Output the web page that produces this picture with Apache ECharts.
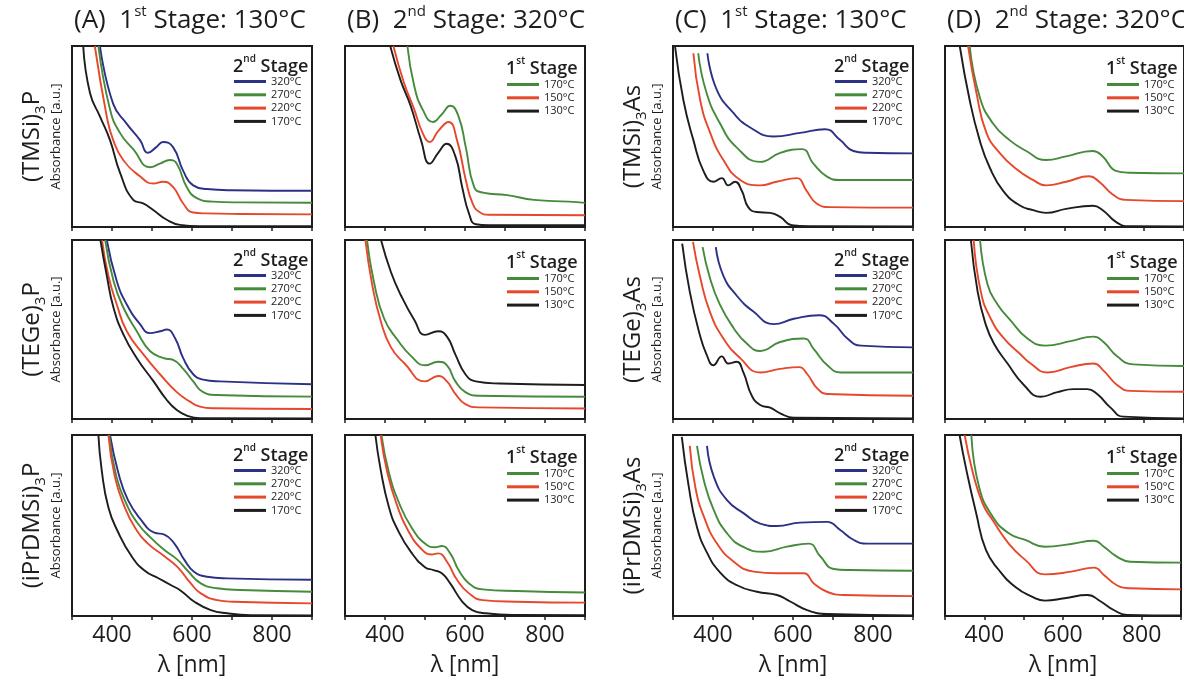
<!DOCTYPE html>
<html>
<head>
<meta charset="utf-8">
<title>Absorption spectra</title>
<script src="https://cdn.jsdelivr.net/npm/echarts@6/dist/echarts.min.js"></script>
<style>
  html, body { margin: 0; padding: 0; background: #ffffff; }
  #chart { width: 1184px; height: 683px; }
</style>
</head>
<body>
<div id="chart"></div>
<script>
// ---- spectra: [wavelength nm, absorbance a.u.] ----
// (TMSi)3P, 1st stage 130 °C, varying 2nd stage
const a1_320 = [[370,1.0],[403,0.68],[437,0.57],[470,0.48],[490,0.41],[510,0.44],[528,0.47],[553,0.44],[578,0.31],[603,0.23],[637,0.21],[700,0.203],[900,0.20]];
const a1_270 = [[366,1.0],[395,0.65],[420,0.52],[453,0.43],[495,0.33],[520,0.35],[545,0.37],[562,0.35],[587,0.22],[612,0.16],[652,0.14],[720,0.136],[900,0.134]];
const a1_220 = [[357,1.0],[387,0.61],[403,0.48],[428,0.37],[470,0.28],[503,0.24],[528,0.25],[553,0.22],[578,0.13],[603,0.08],[637,0.075],[720,0.072],[900,0.07]];
const a1_170 = [[328,1.0],[345,0.74],[370,0.61],[395,0.48],[420,0.30],[453,0.15],[478,0.13],[503,0.094],[537,0.04],[570,0.012],[620,0.005],[900,0.004]];
// (TMSi)3P, 2nd stage 320 °C, varying 1st stage
const b1_170 = [[456,1.0],[473,0.78],[494,0.65],[520,0.58],[541,0.62],[563,0.67],[584,0.61],[602,0.44],[623,0.22],[645,0.19],[705,0.176],[773,0.15],[859,0.14],[900,0.133]];
const b1_150 = [[421,1.0],[447,0.80],[473,0.65],[494,0.52],[512,0.47],[533,0.53],[559,0.58],[580,0.48],[602,0.26],[619,0.13],[636,0.083],[660,0.068],[900,0.065]];
const b1_130 = [[413,1.0],[439,0.81],[464,0.67],[490,0.48],[512,0.35],[533,0.41],[554,0.46],[576,0.39],[593,0.22],[610,0.074],[627,0.015],[660,0.01],[900,0.01]];
// (TMSi)3As, 1st stage 130 °C
const c1_320 = [[386,0.96],[409,0.76],[451,0.63],[493,0.55],[551,0.50],[618,0.52],[680,0.54],[718,0.48],[751,0.42],[784,0.41],[900,0.407]];
const c1_270 = [[363,0.96],[384,0.74],[418,0.57],[459,0.44],[518,0.36],[568,0.41],[622,0.43],[651,0.35],[684,0.28],[718,0.26],[900,0.26]];
const c1_220 = [[351,0.96],[368,0.70],[393,0.52],[426,0.37],[468,0.26],[518,0.23],[559,0.25],[609,0.27],[634,0.20],[659,0.13],[693,0.11],[900,0.107]];
const c1_170 = [[305,1.0],[326,0.70],[351,0.48],[376,0.31],[401,0.25],[422,0.27],[438,0.23],[455,0.25],[472,0.20],[488,0.11],[509,0.083],[543,0.078],[568,0.056],[597,0.01],[640,0.004],[900,0.003]];
// (TMSi)3As, 2nd stage 320 °C
const d1_170 = [[362,1.0],[387,0.72],[421,0.57],[462,0.48],[504,0.42],[554,0.37],[604,0.39],[671,0.42],[696,0.39],[729,0.31],[762,0.30],[900,0.296]];
const d1_150 = [[358,1.0],[379,0.74],[404,0.52],[437,0.41],[479,0.32],[521,0.26],[554,0.23],[604,0.25],[662,0.28],[687,0.25],[721,0.18],[754,0.15],[900,0.143]];
const d1_130 = [[337,1.0],[362,0.70],[387,0.48],[412,0.33],[446,0.20],[487,0.12],[521,0.093],[554,0.078],[604,0.10],[671,0.117],[696,0.093],[729,0.028],[762,0.004],[900,0.003]];
// (TEGe)3P, 1st stage 130 °C
const a2_320 = [[387,1.0],[412,0.77],[437,0.64],[470,0.53],[495,0.48],[520,0.49],[537,0.50],[558,0.45],[578,0.34],[603,0.25],[628,0.22],[670,0.21],[900,0.194]];
const a2_270 = [[383,1.0],[404,0.77],[429,0.62],[462,0.49],[495,0.38],[529,0.34],[553,0.33],[578,0.28],[603,0.21],[628,0.15],[661,0.134],[900,0.125]];
const a2_220 = [[375,1.0],[391,0.80],[412,0.64],[437,0.49],[479,0.36],[520,0.25],[562,0.15],[595,0.097],[620,0.069],[653,0.06],[900,0.056]];
const a2_170 = [[371,1.0],[387,0.80],[404,0.62],[429,0.47],[462,0.34],[504,0.21],[537,0.106],[562,0.05],[587,0.019],[620,0.005],[900,0.003]];
// (TEGe)3P, 2nd stage 320 °C
const b2_170 = [[355,1.0],[372,0.77],[398,0.56],[432,0.44],[466,0.35],[500,0.30],[533,0.32],[555,0.30],[576,0.21],[601,0.15],[635,0.13],[900,0.124]];
const b2_150 = [[351,1.0],[368,0.75],[389,0.55],[415,0.40],[449,0.31],[500,0.21],[533,0.24],[555,0.21],[576,0.14],[601,0.083],[635,0.065],[900,0.059]];
const b2_130 = [[390,1.0],[415,0.82],[440,0.69],[474,0.55],[500,0.47],[533,0.49],[555,0.46],[576,0.36],[601,0.25],[627,0.21],[686,0.198],[900,0.19]];
// (TEGe)3As, 1st stage 130 °C
const c2_320 = [[407,0.96],[426,0.80],[459,0.69],[501,0.60],[552,0.53],[602,0.56],[665,0.58],[703,0.53],[736,0.45],[770,0.41],[900,0.40]];
const c2_270 = [[374,0.96],[392,0.79],[417,0.64],[451,0.51],[485,0.42],[518,0.38],[568,0.43],[627,0.45],[652,0.39],[686,0.30],[720,0.26],[900,0.26]];
const c2_220 = [[350,0.99],[367,0.80],[392,0.60],[426,0.45],[468,0.34],[518,0.26],[568,0.28],[615,0.29],[636,0.25],[661,0.17],[686,0.14],[900,0.13]];
const c2_170 = [[323,0.98],[342,0.71],[367,0.47],[384,0.36],[401,0.30],[422,0.35],[438,0.31],[459,0.32],[476,0.26],[497,0.13],[518,0.078],[543,0.063],[568,0.032],[602,0.007],[900,0.003]];
// (TEGe)3As, 2nd stage 320 °C
const d2_170 = [[388,1.0],[407,0.75],[432,0.64],[465,0.55],[507,0.45],[552,0.41],[615,0.435],[673,0.46],[698,0.43],[732,0.35],[773,0.305],[900,0.296]];
const d2_150 = [[372,1.0],[390,0.71],[415,0.56],[448,0.45],[490,0.36],[515,0.31],[557,0.26],[615,0.29],[673,0.31],[698,0.27],[732,0.19],[765,0.157],[900,0.152]];
const d2_130 = [[365,1.0],[382,0.71],[402,0.53],[423,0.42],[457,0.31],[498,0.19],[540,0.124],[582,0.15],[623,0.167],[657,0.167],[682,0.14],[715,0.065],[748,0.013],[900,0.003]];
// (iPrDMSi)3P, 1st stage 130 °C
const a3_320 = [[395,1.0],[416,0.79],[440,0.64],[473,0.53],[506,0.46],[531,0.45],[556,0.40],[581,0.31],[605,0.245],[638,0.217],[688,0.208],[900,0.20]];
const a3_270 = [[393,1.0],[411,0.77],[436,0.62],[465,0.51],[498,0.43],[531,0.365],[564,0.31],[589,0.25],[622,0.18],[663,0.153],[721,0.144],[900,0.134]];
const a3_220 = [[391,1.0],[407,0.77],[432,0.60],[457,0.49],[490,0.40],[531,0.33],[564,0.27],[597,0.18],[622,0.125],[663,0.088],[704,0.079],[900,0.07]];
const a3_170 = [[366,1.0],[374,0.81],[391,0.60],[416,0.46],[449,0.33],[482,0.25],[515,0.21],[548,0.17],[572,0.14],[605,0.08],[647,0.033],[688,0.015],[746,0.005],[900,0.003]];
// (iPrDMSi)3P, 2nd stage 320 °C
const b3_170 = [[391,1.0],[410,0.79],[436,0.62],[466,0.49],[500,0.40],[525,0.38],[542,0.387],[563,0.346],[584,0.254],[610,0.18],[644,0.147],[729,0.138],[900,0.13]];
const b3_150 = [[389,1.0],[406,0.79],[432,0.60],[457,0.475],[491,0.37],[516,0.34],[533,0.346],[555,0.30],[580,0.20],[610,0.125],[644,0.088],[729,0.079],[900,0.074]];
const b3_130 = [[376,1.0],[389,0.81],[410,0.60],[432,0.475],[466,0.35],[500,0.27],[521,0.254],[542,0.236],[563,0.18],[593,0.08],[618,0.033],[652,0.015],[729,0.006],[900,0.004]];
// (iPrDMSi)3As, 1st stage 130 °C
const c3_320 = [[385,0.94],[402,0.77],[435,0.64],[477,0.567],[518,0.51],[560,0.497],[618,0.516],[685,0.52],[718,0.475],[752,0.42],[785,0.40],[900,0.40]];
const c3_270 = [[360,0.94],[377,0.75],[402,0.585],[435,0.457],[477,0.38],[527,0.355],[585,0.383],[639,0.40],[668,0.33],[702,0.26],[743,0.254],[900,0.25]];
const c3_220 = [[342,0.94],[356,0.71],[377,0.55],[410,0.40],[452,0.30],[502,0.245],[560,0.236],[627,0.236],[652,0.18],[685,0.134],[727,0.116],[900,0.11]];
const c3_170 = [[322,0.99],[339,0.72],[360,0.49],[385,0.35],[418,0.24],[460,0.17],[510,0.134],[560,0.116],[593,0.08],[635,0.033],[685,0.011],[900,0.003]];
// (iPrDMSi)3As, 2nd stage 320 °C
const d3_170 = [[367,1.0],[387,0.71],[421,0.55],[462,0.457],[504,0.42],[554,0.383],[621,0.398],[679,0.416],[704,0.383],[737,0.328],[771,0.30],[900,0.295]];
const d3_150 = [[350,1.0],[371,0.79],[396,0.62],[421,0.53],[462,0.40],[504,0.31],[554,0.23],[621,0.245],[679,0.267],[704,0.227],[737,0.17],[771,0.153],[900,0.147]];
const d3_130 = [[337,1.0],[354,0.81],[379,0.57],[404,0.365],[437,0.254],[479,0.16],[521,0.107],[554,0.085],[604,0.098],[662,0.116],[696,0.08],[729,0.033],[762,0.006],[900,0.003]];

// ---- labels ----
const panelTitles = [
  ['(A)', '1', 'st', ' Stage: 130°C'],
  ['(B)', '2', 'nd', ' Stage: 320°C'],
  ['(C)', '1', 'st', ' Stage: 130°C'],
  ['(D)', '2', 'nd', ' Stage: 320°C']
];
const precursorsP = [['(TMSi)', 'P'], ['(TEGe)', 'P'], ['(iPrDMSi)', 'P']];
const precursorsAs = [['(TMSi)', 'As'], ['(TEGe)', 'As'], ['(iPrDMSi)', 'As']];
const secondStageTemps = ['320°C', '270°C', '220°C', '170°C'];
const firstStageTemps = ['170°C', '150°C', '130°C'];
const xTickLabels = [400, 600, 800];

// ---- styling and layout ----
const FONT = '"Open Sans", "Noto Sans", sans-serif';
const INK = '#1f1c1d';
const COLORS = { blue: '#2c3186', green: '#468a3c', red: '#e6482c', black: '#1f1c1d' };
const colLeft = [72, 345, 673, 945];
const rowTop = [46, 240, 435];
const rowHeight = [181, 179, 181];
const PANEL_W = 240;

// which spectra go into each panel, column by column
const spectraByPanel = [
  [[a1_320, a1_270, a1_220, a1_170], [b1_170, b1_150, b1_130], [c1_320, c1_270, c1_220, c1_170], [d1_170, d1_150, d1_130]],
  [[a2_320, a2_270, a2_220, a2_170], [b2_170, b2_150, b2_130], [c2_320, c2_270, c2_220, c2_170], [d2_170, d2_150, d2_130]],
  [[a3_320, a3_270, a3_220, a3_170], [b3_170, b3_150, b3_130], [c3_320, c3_270, c3_220, c3_170], [d3_170, d3_150, d3_130]]
];
const secondStageColors = [COLORS.blue, COLORS.green, COLORS.red, COLORS.black];
const firstStageColors = [COLORS.green, COLORS.red, COLORS.black];

const grid = [], xAxis = [], yAxis = [], series = [], legend = [], title = [];

panelTitles.forEach((t, c) => {
  title.push({
    left: colLeft[c] + 2, top: 4, padding: 0,
    text: '{t|' + t[0] + '  ' + t[1] + '}{sup|' + t[2] + '}{t|' + t[3] + '}',
    textStyle: {
      fontWeight: 'normal',
      rich: {
        t: { fontFamily: FONT, fontSize: 26, fontWeight: 'normal', lineHeight: 30, verticalAlign: 'bottom', color: INK },
        sup: { fontFamily: FONT, fontSize: 15, fontWeight: 'normal', lineHeight: 15, verticalAlign: 'top', color: INK }
      }
    }
  });
});

for (let r = 0; r < 3; r++) {
  for (let c = 0; c < 4; c++) {
    const idx = grid.length;
    const isSecondStageSeries = (c === 0 || c === 2);
    grid.push({
      left: colLeft[c], top: rowTop[r], width: PANEL_W, height: rowHeight[r],
      show: true, borderColor: INK, borderWidth: 2, backgroundColor: 'transparent'
    });
    const bottomRow = r === 2;
    xAxis.push({
      gridIndex: idx, type: 'value', min: 300, max: 900, interval: 100,
      axisLine: { show: true, onZero: false, lineStyle: { color: INK, width: 2 } },
      axisTick: { show: true, inside: false, length: 4, lineStyle: { color: INK, width: 1.5 } },
      axisLabel: {
        show: bottomRow, margin: 8, color: INK, fontFamily: FONT, fontSize: 23,
        formatter: v => xTickLabels.includes(v) ? String(v) : ''
      },
      splitLine: { show: false },
      name: bottomRow ? 'λ [nm]' : '',
      nameLocation: 'middle', nameGap: 38,
      nameTextStyle: { color: INK, fontFamily: FONT, fontSize: 23 }
    });
    let yName = '';
    if (isSecondStageSeries) {
      const p = (c === 0 ? precursorsP : precursorsAs)[r];
      yName = '{b|' + p[0] + '}{s|3}{b|' + p[1] + '}\n{a|Absorbance [a.u.]}';
    }
    yAxis.push({
      gridIndex: idx, type: 'value', min: 0, max: 1,
      axisLine: { show: false }, axisTick: { show: false }, axisLabel: { show: false },
      splitLine: { show: false },
      name: yName, nameLocation: 'middle', nameRotate: 90, nameGap: 8,
      nameTextStyle: {
        rich: {
          b: { fontFamily: FONT, fontSize: 24, lineHeight: 28, verticalAlign: 'top', color: INK },
          s: { fontFamily: FONT, fontSize: 15, lineHeight: 15, verticalAlign: 'bottom', color: INK },
          a: { fontFamily: FONT, fontSize: 13, lineHeight: 16, color: INK }
        }
      }
    });
    const names = isSecondStageSeries ? secondStageTemps : firstStageTemps;
    const colors = isSecondStageSeries ? secondStageColors : firstStageColors;
    spectraByPanel[r][c].forEach((data, k) => {
      series.push({
        type: 'line', name: names[k], xAxisIndex: idx, yAxisIndex: idx,
        data: data, smooth: 0.5, symbol: 'none', clip: true,
        lineStyle: { color: colors[k], width: 1.9 }, itemStyle: { color: colors[k] },
        silent: true, animation: false
      });
    });
    // legend heading and entries
    const head = isSecondStageSeries ? ['2', 'nd'] : ['1', 'st'];
    title.push({
      left: colLeft[c] + 161, top: rowTop[r] + (isSecondStageSeries ? 8 : 10), padding: 0,
      text: '{n|' + head[0] + '}{sup|' + head[1] + '}{n| Stage}',
      textStyle: {
        rich: {
          n: { fontFamily: FONT, fontSize: 18, fontWeight: 600, lineHeight: 22, verticalAlign: 'bottom', color: INK },
          sup: { fontFamily: FONT, fontSize: 10, fontWeight: 600, lineHeight: 10, verticalAlign: 'top', color: INK }
        }
      }
    });
    legend.push({
      left: colLeft[c] + 162, top: rowTop[r] + (isSecondStageSeries ? 30 : 33),
      orient: 'vertical', padding: 0, itemGap: 2.3, itemWidth: 32, itemHeight: 3,
      icon: 'rect', selectedMode: false,
      textStyle: { fontFamily: FONT, fontSize: 11, lineHeight: 11, color: INK },
      data: names.map((n, k) => ({ name: n, itemStyle: { color: colors[k], borderWidth: 0 } }))
    });
  }
}

const chart = echarts.init(document.getElementById('chart'), null, { renderer: 'canvas' });
chart.setOption({
  backgroundColor: '#ffffff',
  animation: false,
  title: title,
  grid: grid,
  xAxis: xAxis,
  yAxis: yAxis,
  legend: legend,
  series: series
});
</script>
</body>
</html>
